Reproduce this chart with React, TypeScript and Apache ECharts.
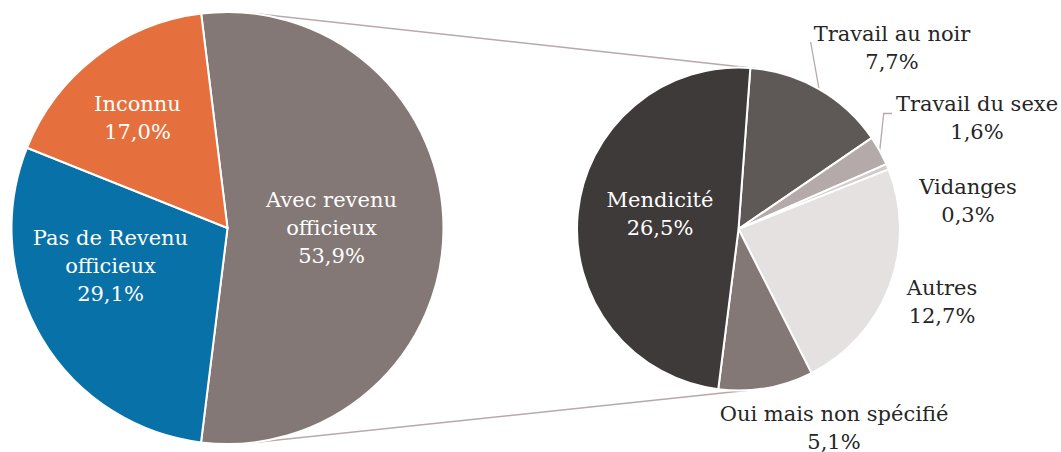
import React, { useEffect, useRef } from "react";
import * as echarts from "echarts";

// ---------- data ----------
const mainCategories = ["Avec revenu officieux", "Pas de Revenu officieux", "Inconnu"];
const mainValues = [53.9, 29.1, 17.0];

const detailCategories = [
  "Travail au noir",
  "Travail du sexe",
  "Vidanges",
  "Autres",
  "Oui mais non spécifié",
  "Mendicité",
];
const detailValues = [7.7, 1.6, 0.3, 12.7, 5.1, 26.5];

// ---------- styles ----------
const mainColors = ["#847876", "#0871a8", "#e6703d"];
const detailColors = ["#5e5857", "#b3aaa9", "#d2cdcc", "#e4e1e0", "#847876", "#3e3a39"];
const LINE_COLOR = "#b9a8aa";
const FONT = "'DejaVu Serif', 'Liberation Serif', serif";
const FONT_SIZE = 21;
const LINE_HEIGHT = 28;

const MAIN = { cx: 227.5, cy: 228, r: 216, startAngle: 97 };
const DETAIL = { cx: 738.5, cy: 229, r: 161.5, startAngle: 85.8 };

// label anchor offsets (label centre relative to pie centre, px)
const mainLabelOffsets = [
  [104, 0],
  [-117, 38],
  [-90, -110],
];
const detailLabelOffsets = [
  [153.5, -181],
  [238.5, -111.5],
  [229.5, -28.5],
  [203.5, 73],
  [95.5, 198.5],
  [-78.5, -15],
];
const detailInside = [false, false, false, false, false, true];
const detailLeader = ["straight", "elbow", null, null, null, null];

// ---------- helpers ----------
const fmt = (v: number) => v.toFixed(1).replace(".", ",") + "%";
const displayName = (n: string) => n.replace(" officieux", "\nofficieux");

function midAngles(values: number[], startAngle: number) {
  const total = values.reduce((a, b) => a + b, 0);
  let acc = 0;
  return values.map((v) => {
    const a0 = 90 - startAngle + (360 * acc) / total;
    acc += v;
    const a1 = 90 - startAngle + (360 * acc) / total;
    return (a0 + a1) / 2;
  });
}

function polar(p: { cx: number; cy: number }, angleDeg: number, radius: number) {
  const t = (angleDeg * Math.PI) / 180;
  return [p.cx + radius * Math.sin(t), p.cy - radius * Math.cos(t)];
}

function tangentLines() {
  const vx = DETAIL.cx - MAIN.cx;
  const vy = DETAIL.cy - MAIN.cy;
  const d = Math.sqrt(vx * vx + vy * vy);
  const ux = vx / d;
  const uy = vy / d;
  const wx = uy;
  const wy = -ux;
  const a = (MAIN.r - DETAIL.r) / d;
  const b = Math.sqrt(1 - a * a);
  return [1, -1].map((s) => {
    const nx = a * ux + s * b * wx;
    const ny = a * uy + s * b * wy;
    return {
      type: "line",
      z: 1,
      silent: true,
      shape: {
        x1: MAIN.cx + MAIN.r * nx,
        y1: MAIN.cy + MAIN.r * ny,
        x2: DETAIL.cx + DETAIL.r * nx,
        y2: DETAIL.cy + DETAIL.r * ny,
      },
      style: { stroke: LINE_COLOR, lineWidth: 1.5 },
    };
  });
}

function buildOption() {
  const detailMid = midAngles(detailValues, DETAIL.startAngle);

  return {
    animation: false,
    backgroundColor: "#ffffff",
    graphic: tangentLines(),
    series: [
      {
        type: "pie",
        silent: true,
        center: [MAIN.cx, MAIN.cy],
        radius: MAIN.r,
        startAngle: MAIN.startAngle,
        clockwise: true,
        avoidLabelOverlap: false,
        itemStyle: { borderColor: "#ffffff", borderWidth: 2 },
        label: {
          show: true,
          position: "inside",
          color: "#ffffff",
          fontFamily: FONT,
          fontSize: FONT_SIZE,
          lineHeight: LINE_HEIGHT,
          align: "center",
          overflow: "none",
          formatter: (p: any) => displayName(p.name) + "\n" + fmt(p.value),
        },
        labelLine: { show: false },
        labelLayout: (params: any) => {
          const off = mainLabelOffsets[params.dataIndex];
          return {
            x: MAIN.cx + off[0],
            y: MAIN.cy + off[1],
            align: "center",
            verticalAlign: "middle",
          };
        },
        data: mainCategories.map((name, i) => ({
          name,
          value: mainValues[i],
          itemStyle: { color: mainColors[i] },
        })),
      },
      {
        type: "pie",
        silent: true,
        center: [DETAIL.cx, DETAIL.cy],
        radius: DETAIL.r,
        startAngle: DETAIL.startAngle,
        clockwise: true,
        avoidLabelOverlap: false,
        itemStyle: { borderColor: "#ffffff", borderWidth: 2 },
        label: {
          show: true,
          position: "outside",
          color: "#262626",
          fontFamily: FONT,
          fontSize: FONT_SIZE,
          lineHeight: LINE_HEIGHT,
          align: "center",
          overflow: "none",
          formatter: (p: any) => displayName(p.name) + "\n" + fmt(p.value),
        },
        labelLine: { show: false, lineStyle: { color: LINE_COLOR, width: 1.3 } },
        labelLayout: (params: any) => {
          const i = params.dataIndex;
          const off = detailLabelOffsets[i];
          const x = DETAIL.cx + off[0];
          const y = DETAIL.cy + off[1];
          const res: any = { x, y, align: "center", verticalAlign: "middle" };
          const w = params.labelRect ? params.labelRect.width : 0;
          const left = x - w / 2;
          const edge = polar(DETAIL, detailMid[i], DETAIL.r);
          if (detailLeader[i] === "straight") {
            const end = [left - 3, y - 6];
            res.labelLinePoints = [edge, [(edge[0] + end[0]) / 2, (edge[1] + end[1]) / 2], end];
          } else if (detailLeader[i] === "elbow") {
            const yy = y - 4;
            res.labelLinePoints = [edge, [edge[0] + 4, yy], [left - 4, yy]];
          }
          return res;
        },
        data: detailCategories.map((name, i) => ({
          name,
          value: detailValues[i],
          itemStyle: { color: detailColors[i] },
          label: detailInside[i] ? { position: "inside", color: "#ffffff" } : undefined,
          labelLine: detailLeader[i] ? { show: true } : undefined,
        })),
      },
    ],
  };
}

export default function App() {
  const ref = useRef<HTMLDivElement>(null);
  useEffect(() => {
    document.body.style.margin = "0";
    const chart = echarts.init(ref.current!, undefined, { renderer: "svg" });
    chart.setOption(buildOption() as any);
    return () => chart.dispose();
  }, []);
  return <div ref={ref} style={{ width: 1061, height: 452 }} />;
}
